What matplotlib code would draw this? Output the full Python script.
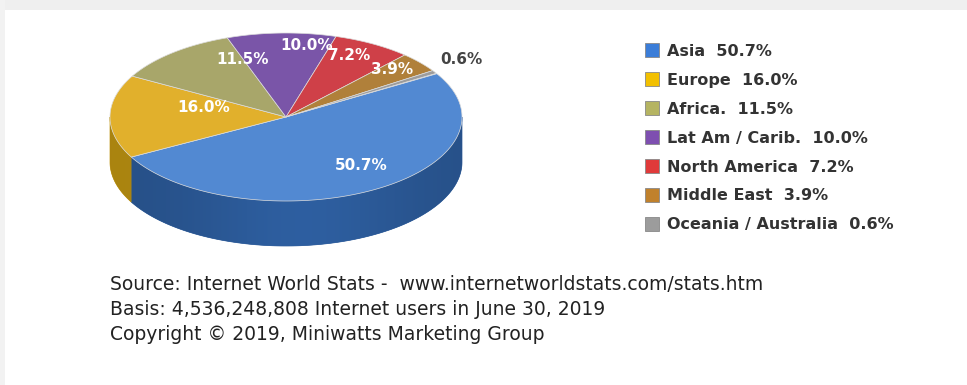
import numpy as np
import matplotlib.pyplot as plt
from matplotlib.patches import Rectangle, Polygon
from matplotlib import colors as mcolors

regions = ["Asia", "Europe", "Africa.", "Lat Am / Carib.", "North America",
           "Middle East", "Oceania / Australia"]
shares = [50.7, 16.0, 11.5, 10.0, 7.2, 3.9, 0.6]
top_colors = ["#5289d2", "#e1b02c", "#a8a66a", "#7a55a8", "#cf4048",
              "#b0803a", "#9c9c9c"]
key_colors = ["#3b7dd8", "#f2c000", "#b5b462", "#7e4fb0", "#e03a3a",
              "#c0812c", "#9c9c9c"]
side_colors = ["#2c5b9a", "#c09512", "#7f7d48", "#553a80", "#9a2a30",
               "#86602a", "#777777"]

source_lines = [
    "Source: Internet World Stats -  www.internetworldstats.com/stats.htm",
    "Basis: 4,536,248,808 Internet users in June 30, 2019",
    "Copyright \u00a9 2019, Miniwatts Marketing Group",
]

W, H = 967, 385
fig = plt.figure(figsize=(W / 100, H / 100), dpi=100)
ax = fig.add_axes([0, 0, 1, 1])
ax.set_xlim(0, W)
ax.set_ylim(H, 0)
ax.axis("off")

# light grey frame along the top and left
ax.add_patch(Rectangle((0, 0), W, 10, color="#efefef", lw=0, zorder=0))
ax.add_patch(Rectangle((0, 0), 5, H, color="#f2f2f2", lw=0, zorder=0))

# pie geometry (pixels)
cx, cy, a, b, depth = 286, 117, 176, 84, 45
start = 31.0


def pt(t):
    t = np.radians(t)
    return cx + a * np.cos(t), cy - b * np.sin(t)


angles = start - np.concatenate([[0], np.cumsum(shares)]) * 3.6

# side walls, front half only (180..360 deg), shaded left to right
for i in range(len(shares)):
    t_hi, t_lo = angles[i], angles[i + 1]
    for off in (0, 360, -360):
        lo, hi = max(t_lo + off, 180), min(t_hi + off, 360)
        if hi <= lo:
            continue
        ts = np.linspace(lo, hi, 200)
        x, y = pt(ts)
        poly = Polygon(np.c_[np.r_[x, x[::-1]], np.r_[y, y[::-1] + depth]],
                       closed=True, fc=side_colors[i], ec=side_colors[i],
                       lw=0.5, zorder=1)
        ax.add_patch(poly)
        base = np.array(mcolors.to_rgb(side_colors[i]))
        xs = np.linspace(x.min(), x.max(), 300)
        u = (xs - (cx - a)) / (2 * a)
        shade = 0.88 + 0.16 * np.exp(-((u - 0.55) / 0.3) ** 2)
        grad = np.clip(base[None, :] * shade[:, None], 0, 1)[None, :, :]
        im = ax.imshow(grad, extent=(x.min(), x.max(), y.max() + depth, y.min()),
                       aspect="auto", zorder=1.1, interpolation="bilinear")
        im.set_clip_path(poly)

ax.set_xlim(0, W)
ax.set_ylim(H, 0)

# top face
for i in range(len(shares)):
    ts = np.linspace(angles[i], angles[i + 1], 200)
    x, y = pt(ts)
    ax.fill(np.r_[cx, x], np.r_[cy, y], color=top_colors[i],
            ec="#dcdcdc", lw=0.5, zorder=2)

# value labels on the top face
label_pos = [(361, 166), (204, 108), (243, 60), (307, 46), (349, 55),
             (392, 69), (461, 60)]
for i, (lx, ly) in enumerate(label_pos):
    col = "#444444" if i == 6 else "white"
    ax.text(lx, ly, f"{shares[i]:.1f}%", color=col, fontsize=11,
            fontweight="bold", family="DejaVu Sans",
            ha="center", va="center", zorder=3)

# legend
for i, name in enumerate(regions):
    yy = 50 + i * 29
    ax.add_patch(Rectangle((645, yy - 7), 14, 14, fc=key_colors[i],
                           ec="#888888", lw=0.6, zorder=3))
    ax.text(667, yy + 1, f"{name}  {shares[i]:.1f}%", fontsize=11.5,
            fontweight="bold", color="#333333", family="DejaVu Sans",
            ha="left", va="center", zorder=3)

# source notes
for j, line in enumerate(source_lines):
    ax.text(110, 285 + j * 24.5, line, fontsize=13.5, color="#222222",
            family="DejaVu Sans", ha="left", va="center")

fig.savefig("out.png", dpi=100)
